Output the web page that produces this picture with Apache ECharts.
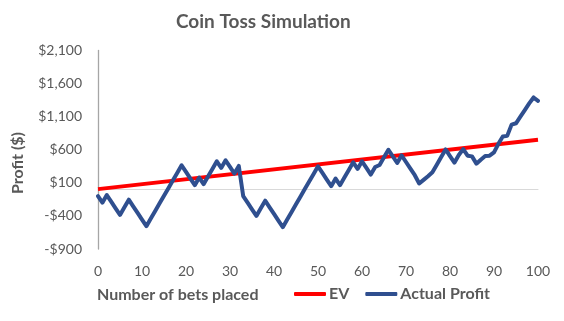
<!DOCTYPE html>
<html>
<head>
<meta charset="utf-8">
<script src="https://cdn.jsdelivr.net/npm/echarts@6/dist/echarts.min.js"></script>
<style>html,body{margin:0;padding:0;background:#fff}#c{width:564px;height:321px}</style>
</head>
<body>
<div id="c"></div>
<script>
const titleText = 'Coin Toss Simulation';
const xName = 'Number of bets placed';
const yName = 'Profit ($)';
const xTicks = [0, 10, 20, 30, 40, 50, 60, 70, 80, 90, 100];
const yTicks = [-900, -400, 100, 600, 1100, 1600, 2100];
// Actual profit after each bet (bets 0..100)
const actualProfit = [
  -100, -200, -85, -185, -285, -385, -270, -155, -255, -355,
  -455, -555, -440, -325, -210, -95, 20, 135, 250, 365,
  265, 165, 65, 180, 80, 195, 310, 425, 325, 440,
  340, 240, 355, -100, -200, -300, -400, -285, -170, -270,
  -370, -470, -570, -455, -340, -225, -110, 5, 120, 235,
  350, 250, 150, 50, 165, 65, 180, 295, 410, 310,
  425, 325, 225, 340, 370, 485, 600, 500, 400, 515,
  415, 315, 215, 90, 145, 200, 260, 375, 490, 605,
  505, 405, 520, 610, 510, 500, 390, 450, 505, 510,
  560, 690, 800, 810, 980, 1000, 1100, 1200, 1300, 1390,
  1340
];
// Expected value line endpoints [bet, value]
const evPoints = [[0, 5], [100, 750]];

const gray = '#595959';
const font = 'Lato, "Open Sans", sans-serif';
const fmt = v => (v < 0 ? '-$' : '$') + Math.abs(v).toLocaleString('en-US');

const chart = echarts.init(document.getElementById('c'));
chart.setOption({
  animation: false,
  title: {
    text: titleText, left: 171, top: 7,
    textStyle: {fontFamily: font, fontSize: 19, fontWeight: 'bold', color: gray}
  },
  legend: {
    left: 294, top: 286, padding: 0, itemWidth: 32, itemHeight: 4, itemGap: 16,
    icon: 'roundRect',
    textStyle: {fontFamily: font, fontSize: 16, fontWeight: 'bold', color: gray, padding: [0, 0, 0, -2]},
    data: ['EV', 'Actual Profit']
  },
  grid: {left: 98, right: 26, top: 50.5, bottom: 72},
  graphic: [
    {type: 'text', left: 97, top: 287, style: {text: xName, fontFamily: font, fontSize: 16, fontWeight: 'bold', fill: gray}},
    {type: 'text', x: 18, y: 163, rotation: Math.PI / 2,
     style: {text: yName, fontFamily: font, fontSize: 16, fontWeight: 'bold', fill: gray, align: 'center', verticalAlign: 'middle'}}
  ],
  xAxis: [
    {type: 'value', min: xTicks[0], max: xTicks[xTicks.length - 1], interval: 10,
     axisLine: {show: true, onZero: true, lineStyle: {color: '#d9d9d9', width: 1}},
     axisTick: {show: false}, axisLabel: {show: false}, splitLine: {show: false}},
    {type: 'value', position: 'bottom', min: xTicks[0], max: xTicks[xTicks.length - 1], interval: 10,
     axisLine: {show: false}, axisTick: {show: false}, splitLine: {show: false},
     axisLabel: {margin: 15, fontFamily: font, fontSize: 14, color: gray}}
  ],
  yAxis: {
    type: 'value', min: yTicks[0], max: yTicks[yTicks.length - 1], interval: 500,
    axisLine: {show: true, onZero: false, lineStyle: {color: '#a6a6a6', width: 1.3}},
    axisTick: {show: false}, splitLine: {show: false},
    axisLabel: {margin: 16, fontFamily: font, fontSize: 14, color: gray, formatter: fmt}
  },
  series: [
    {name: 'EV', type: 'line', xAxisIndex: 0, data: evPoints, symbol: 'none',
     lineStyle: {color: '#ff0000', width: 4}, itemStyle: {color: '#ff0000'}, z: 2},
    {name: 'Actual Profit', type: 'line', xAxisIndex: 0,
     data: actualProfit.map((v, i) => [i, v]), symbol: 'none',
     lineStyle: {color: '#2f4f8f', width: 4, join: 'round', cap: 'round'}, itemStyle: {color: '#2f4f8f'}, z: 3}
  ]
});
</script>
</body>
</html>
